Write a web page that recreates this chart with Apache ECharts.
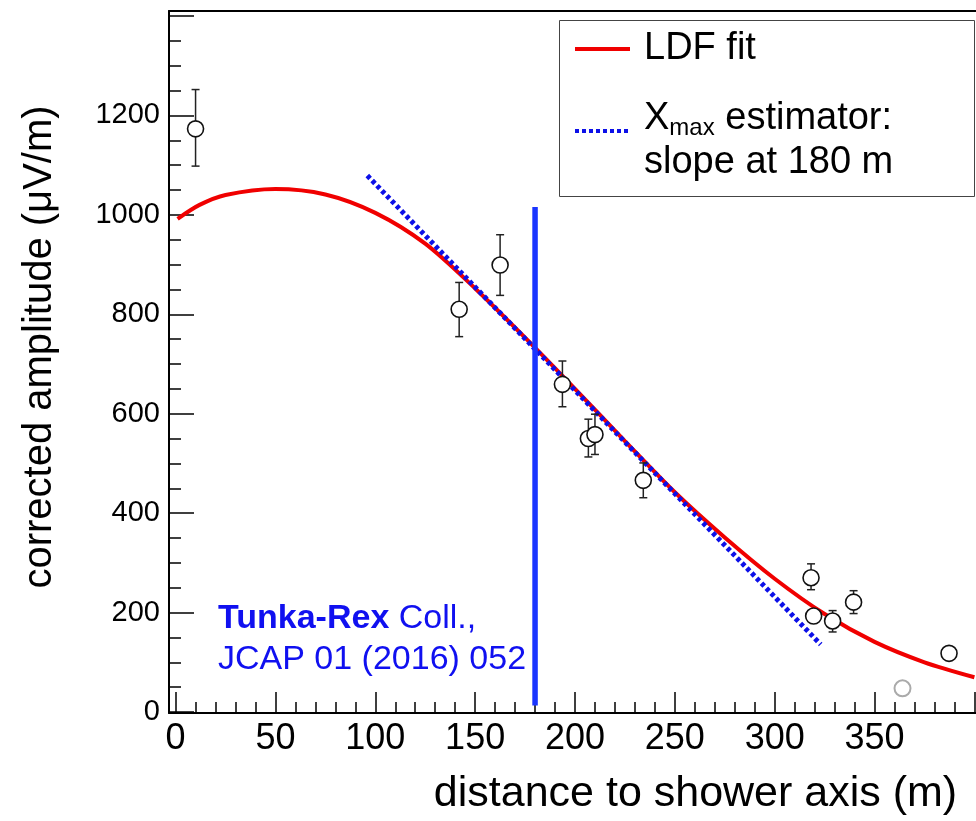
<!DOCTYPE html>
<html><head><meta charset="utf-8">
<script src="https://cdn.jsdelivr.net/npm/echarts@6/dist/echarts.min.js"></script>
<style>html,body{margin:0;padding:0;background:#fff}#c{width:976px;height:821px}</style>
</head><body><div id="c"></div>
<script>
// ---- data ----
const pointX = [10, 142, 162.5, 193.7, 206.7, 210, 234.2, 318.2, 319.5, 329, 339.5, 387.3];
const pointY = [1173, 810, 899, 659, 550, 558, 466, 270, 193, 183, 221, 118];
const errLow = [1098, 755, 838, 614, 513, 518, 431, 246, 181, 161, 198, 106];
const errHigh = [1252, 864, 960, 706, 589, 599, 501, 298, 205, 204, 244, 130];
const grayX = [364];
const grayY = [47.6];
const ldfX = [1, 12, 25, 50, 75, 100, 125, 150, 175, 200, 225, 250, 275, 300, 325, 350, 375, 400];
const ldfY = [992, 1020, 1040, 1052, 1041, 1004, 942, 852, 753, 650, 545, 442, 351, 268, 197, 141, 100, 70];
const slopeX = [96, 323];
const slopeY = [1079, 136];
const markX = [180, 180];
const markY = [13, 1016];
const xMajorTicks = [0, 50, 100, 150, 200, 250, 300, 350, 400];
const xLabels = [0, 50, 100, 150, 200, 250, 300, 350];
const xMinorTicks = [10,20,30,40,60,70,80,90,110,120,130,140,160,170,180,190,210,220,230,240,260,270,280,290,310,320,330,340,360,370,380,390];
const yMajorTicks = [0, 200, 400, 600, 800, 1000, 1200, 1400];
const yLabels = [0, 200, 400, 600, 800, 1000, 1200];
const yMinorTicks = [50,100,150,250,300,350,450,500,550,650,700,750,850,900,950,1050,1100,1150,1250,1300,1350];

const FONT = '"Liberation Sans", Arial, Helvetica, sans-serif';
const X_MIN = -3.3, X_MAX = 400.8, Y_MIN = -2, Y_MAX = 1410;

const zip = (a, b) => a.map((v, i) => [v, b[i]]);

const chart = echarts.init(document.getElementById('c'), null, {renderer: 'canvas'});

const baseX = {type: 'value', min: X_MIN, max: X_MAX, splitLine: {show: false}, offset: 0};
const baseY = {type: 'value', min: Y_MIN, max: Y_MAX, splitLine: {show: false}, offset: 0};

chart.setOption({
  animation: false,
  backgroundColor: '#fff',
  textStyle: {fontFamily: FONT},
  grid: {left: 169, right: 0, top: 11, bottom: 104, containLabel: false},
  xAxis: [
    Object.assign({}, baseX, {
      position: 'bottom',
      name: 'distance to shower axis (m)',
      nameLocation: 'middle',
      nameGap: 60,
      nameTextStyle: {fontSize: 43, color: '#000', fontFamily: FONT, padding: [0, 0, 0, 246]},
      axisLine: {show: true, onZero: false, lineStyle: {color: '#000', width: 2}},
      axisTick: {show: true, inside: true, length: 21, lineStyle: {color: '#000', width: 1.5}, customValues: xMajorTicks},
      axisLabel: {show: true, fontSize: 36, color: '#000', fontFamily: FONT, margin: 8, customValues: xLabels,
        formatter: v => String(v)}
    }),
    Object.assign({}, baseX, {
      position: 'bottom',
      axisLine: {show: false, onZero: false},
      axisTick: {show: true, inside: true, length: 11, lineStyle: {color: '#000', width: 1.5}, customValues: xMinorTicks},
      axisLabel: {show: false}
    }),
    Object.assign({}, baseX, {
      position: 'top',
      axisLine: {show: true, onZero: false, lineStyle: {color: '#000', width: 2}},
      axisTick: {show: false},
      axisLabel: {show: false}
    })
  ],
  yAxis: [
    Object.assign({}, baseY, {
      position: 'left',
      name: 'corrected amplitude (\u03bcV/m)',
      nameLocation: 'middle',
      nameRotate: 90,
      nameGap: 109,
      nameTextStyle: {fontSize: 40, color: '#000', fontFamily: FONT, padding: [0, 0, 0, 30]},
      axisLine: {show: true, onZero: false, lineStyle: {color: '#000', width: 2}},
      axisTick: {show: true, inside: true, length: 25, lineStyle: {color: '#000', width: 1.5}, customValues: yMajorTicks},
      axisLabel: {show: true, fontSize: 29, color: '#000', fontFamily: FONT, margin: 9, customValues: yLabels,
        formatter: v => String(v)}
    }),
    Object.assign({}, baseY, {
      position: 'left',
      axisLine: {show: false, onZero: false},
      axisTick: {show: true, inside: true, length: 12, lineStyle: {color: '#000', width: 1.5}, customValues: yMinorTicks},
      axisLabel: {show: false}
    })
  ],
  legend: {
    data: ['LDF fit', 'Xmax estimator'],
    orient: 'vertical',
    left: 573,
    top: 27,
    padding: 0,
    itemGap: 16,
    itemWidth: 55,
    itemHeight: 6,
    selectedMode: false,
    itemStyle: {opacity: 0},
    lineStyle: {width: 4},
    textStyle: {
      fontSize: 38, color: '#000', fontFamily: FONT, lineHeight: 44, padding: [0, 0, 0, 9],
      rich: {
        b: {fontSize: 38, lineHeight: 64, fontFamily: FONT, color: '#000'},
        sub: {fontSize: 24, lineHeight: 48, fontFamily: FONT, color: '#000', verticalAlign: 'bottom', padding: [0, 0, 11, 0]},
        c: {fontSize: 38, lineHeight: 24, fontFamily: FONT, color: '#000'}
      }
    },
    formatter: function (name) {
      if (name === 'Xmax estimator') return '{b|X}{sub|max}{b| estimator:}\n{c|slope at 180 m}';
      return name;
    }
  },
  graphic: [
    {type: 'rect', shape: {x: 559.5, y: 20.5, width: 415, height: 176}, style: {fill: 'none', stroke: '#444', lineWidth: 1}, z: 50, silent: true},
    {type: 'text', left: 218, top: 602, z: 60, silent: true,
      style: {
        text: '{b|Tunka-Rex}{n| Coll.,}\n{n|JCAP 01 (2016) 052}',
        rich: {
          b: {fontSize: 34, fontWeight: 'bold', fill: '#1010f0', fontFamily: FONT, lineHeight: 41},
          n: {fontSize: 34, fill: '#1010f0', fontFamily: FONT, lineHeight: 41}
        }
      }
    }
  ],
  series: [
    {
      name: 'LDF fit', type: 'line', xAxisIndex: 0, yAxisIndex: 0,
      data: zip(ldfX, ldfY), smooth: 0.3, symbol: 'none', showSymbol: false,
      lineStyle: {color: '#f00000', width: 4}, itemStyle: {color: '#f00000'}, z: 3, silent: true
    },
    {
      name: 'Xmax estimator', type: 'line', xAxisIndex: 0, yAxisIndex: 0,
      data: zip(slopeX, slopeY), symbol: 'none', showSymbol: false,
      lineStyle: {color: '#0c10e8', width: 5, type: [4, 3]}, itemStyle: {color: '#0c10e8'}, z: 4, silent: true
    },
    {
      name: 'mark180', type: 'line', xAxisIndex: 0, yAxisIndex: 0,
      data: zip(markX, markY), symbol: 'none', showSymbol: false,
      lineStyle: {color: '#1a35ff', width: 5.5}, z: 4, silent: true
    },
    {
      name: 'errors', type: 'custom', xAxisIndex: 0, yAxisIndex: 0, z: 5, silent: true,
      data: pointX.map((x, i) => [x, errLow[i], errHigh[i]]),
      encode: {x: 0, y: [1, 2]},
      renderItem: function (params, api) {
        const x = api.value(0), lo = api.value(1), hi = api.value(2);
        const p1 = api.coord([x, hi]), p2 = api.coord([x, lo]);
        const cw = 4, st = {stroke: '#222', lineWidth: 1.5};
        return {type: 'group', children: [
          {type: 'line', shape: {x1: p1[0], y1: p1[1], x2: p2[0], y2: p2[1]}, style: st},
          {type: 'line', shape: {x1: p1[0] - cw, y1: p1[1], x2: p1[0] + cw, y2: p1[1]}, style: st},
          {type: 'line', shape: {x1: p2[0] - cw, y1: p2[1], x2: p2[0] + cw, y2: p2[1]}, style: st}
        ]};
      }
    },
    {
      name: 'points', type: 'scatter', xAxisIndex: 0, yAxisIndex: 0, z: 6, silent: true,
      data: zip(pointX, pointY), symbol: 'circle', symbolSize: 16,
      itemStyle: {color: '#fff', borderColor: '#111', borderWidth: 1.6, opacity: 1}
    },
    {
      name: 'excluded', type: 'scatter', xAxisIndex: 0, yAxisIndex: 0, z: 6, silent: true,
      data: zip(grayX, grayY), symbol: 'circle', symbolSize: 16,
      itemStyle: {color: '#fff', borderColor: '#aaa', borderWidth: 2, opacity: 1}
    }
  ]
});
</script>
</body></html>
